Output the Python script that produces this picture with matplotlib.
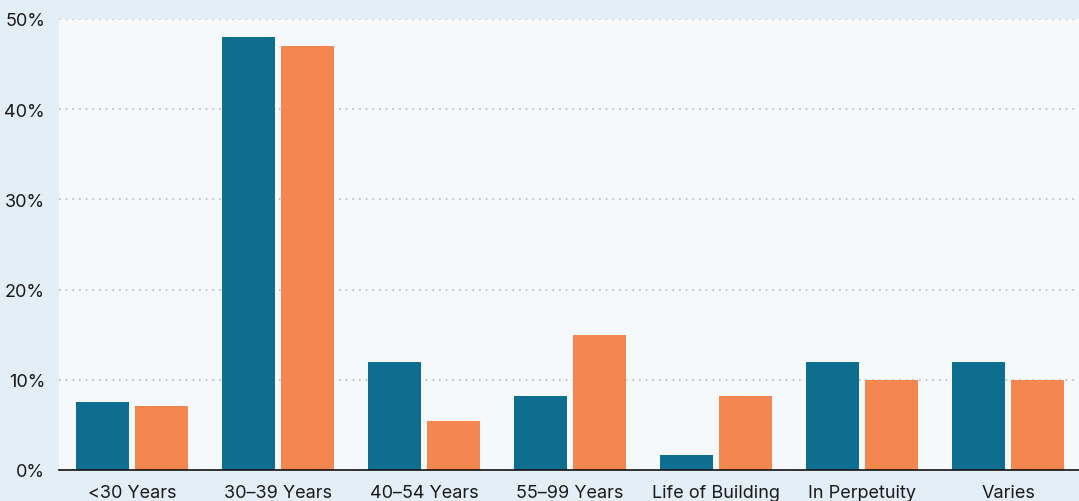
import matplotlib
matplotlib.use("Agg")
import matplotlib.pyplot as plt
import numpy as np

# データ
categories = ["<30 Years", "30–39 Years", "40–54 Years", "55–99 Years",
              "Life of Building", "In Perpetuity", "Varies"]
series_a = [7.5, 48.0, 12.0, 8.2, 1.7, 12.0, 12.0]
series_b = [7.1, 47.0, 5.4, 15.0, 8.2, 10.0, 10.0]
yticks = [0, 10, 20, 30, 40, 50]

plt.rcParams["font.family"] = ["Inter", "DejaVu Sans"]

fig = plt.figure(figsize=(10.79, 5.02), dpi=100, facecolor="#e4eef7")
ax = fig.add_axes([59 / 1079, 31 / 502, 1022 / 1079, 451 / 502])
ax.set_facecolor("#f5f9fc")

x = np.arange(len(categories))
w = 0.363
off = 0.199
ax.bar(x - off, series_a, width=w, color="#0d6e8f", zorder=3)
ax.bar(x + off, series_b, width=w, color="#f4874f", zorder=3)

ax.set_xlim(-0.5, len(categories) - 0.5)
ax.set_ylim(0, 50)
ax.set_yticks(yticks)
ax.set_yticklabels([f"{t}%" for t in yticks])
ax.set_xticks(x)
ax.set_xticklabels(categories)

ax.grid(axis="y", linestyle=(0, (1, 3)), color="#b8bcc0", linewidth=1.2, zorder=0)
for s in ["left", "right", "top"]:
    ax.spines[s].set_visible(False)
ax.spines["bottom"].set_color("#111111")
ax.spines["bottom"].set_linewidth(1.2)
ax.spines["bottom"].set_zorder(4)
ax.tick_params(axis="both", length=0, labelsize=13, labelcolor="#1a1a1a")
ax.tick_params(axis="y", pad=10)
ax.tick_params(axis="x", pad=10)

fig.savefig("out.png", dpi=100, facecolor=fig.get_facecolor())
